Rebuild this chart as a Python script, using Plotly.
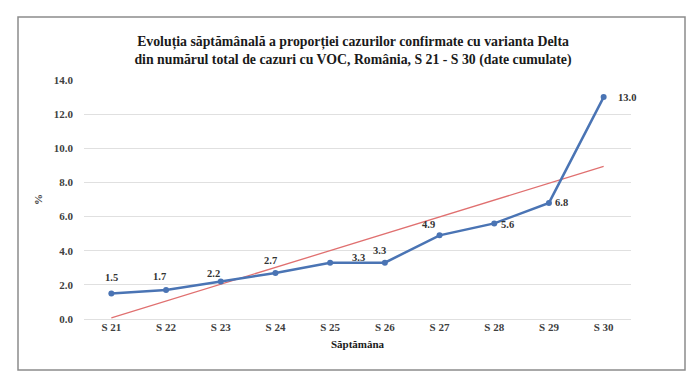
import numpy as np
import plotly.graph_objects as go

weeks = ["S 21", "S 22", "S 23", "S 24", "S 25", "S 26", "S 27", "S 28", "S 29", "S 30"]
values = [1.5, 1.7, 2.2, 2.7, 3.3, 3.3, 4.9, 5.6, 6.8, 13.0]
y_ticks = [0, 2, 4, 6, 8, 10, 12, 14]

# label offsets in pixels (style only)
label_dx = [0, -7, -7, -5, 28, -5, -11, 13, 13, 23]
label_dy = [16, 13, 8, 12, 5, 12, 11, -1, 0, 0]

# linear trendline (least squares), as in Excel
xi = np.arange(len(values))
slope, intercept = np.polyfit(xi, values, 1)
trend = [intercept + slope * i for i in xi]

font_serif = "Liberation Serif, Times New Roman, serif"

fig = go.Figure()
fig.add_trace(go.Scatter(
    x=weeks, y=trend, mode="lines",
    line=dict(color="#e07070", width=1.3),
    hoverinfo="skip", showlegend=False,
))
fig.add_trace(go.Scatter(
    x=weeks, y=values, mode="lines+markers",
    line=dict(color="#4a74b4", width=2.5),
    marker=dict(color="#4a74b4", size=6),
    showlegend=False,
))

for w, v, dx, dy in zip(weeks, values, label_dx, label_dy):
    fig.add_annotation(
        x=w, y=v, text=f"{v:.1f}", showarrow=False,
        xshift=dx, yshift=dy, xanchor="center", yanchor="middle",
        font=dict(family=font_serif, size=10.5, color="#333333", weight="bold"),
    )

# page offset (body margin of the html page)
O = 8
W, H = 700 - O, 392 - O
L, R, T, B = 84 - O, 69, 80 - O, 73
pw, ph = W - L - R, H - T - B

def px(x):
    return (x - O - L) / pw

def py(y):
    return (H - B - (y - O)) / ph

fig.add_shape(type="rect", xref="paper", yref="paper",
              x0=px(18), x1=px(685), y0=py(370), y1=py(17),
              line=dict(color="#8c8c8c", width=1.5), layer="below")

fig.update_layout(
    width=W, height=H,
    margin=dict(l=L, r=R, t=T, b=B),
    paper_bgcolor="white", plot_bgcolor="white",
    title=dict(
        text="Evoluția săptămânală a proporției cazurilor confirmate cu varianta Delta<br>"
             "din numărul total de cazuri cu VOC, România, S 21 - S 30 (date cumulate)",
        x=(353 - O) / W, xanchor="center", y=1 - (46 - O) / H, yanchor="middle",
        font=dict(family=font_serif, size=13.8, color="#1a1a1a", weight="bold"),
    ),
    xaxis=dict(
        type="category", range=[-0.5, 9.5],
        showgrid=False, showline=False, zeroline=False,
        tickfont=dict(family=font_serif, size=11, color="#404040", weight="bold"),
        title=dict(text="Săptămâna", standoff=8,
                   font=dict(family=font_serif, size=11, color="#1a1a1a", weight="bold")),
        ticks="",
    ),
    yaxis=dict(
        range=[0, 14], tickvals=y_ticks,
        ticktext=[f"{v:.1f}" for v in y_ticks],
        showgrid=True, gridcolor="#e0e0e0", gridwidth=1,
        zeroline=True, zerolinecolor="#e0e0e0", zerolinewidth=1,
        showline=False, ticks="", ticklabelstandoff=10,
        tickfont=dict(family=font_serif, size=11, color="#404040", weight="bold"),
        title=dict(text="%", standoff=8,
                   font=dict(family=font_serif, size=11, color="#404040", weight="bold")),
    ),
)

fig.write_html("out.html")
